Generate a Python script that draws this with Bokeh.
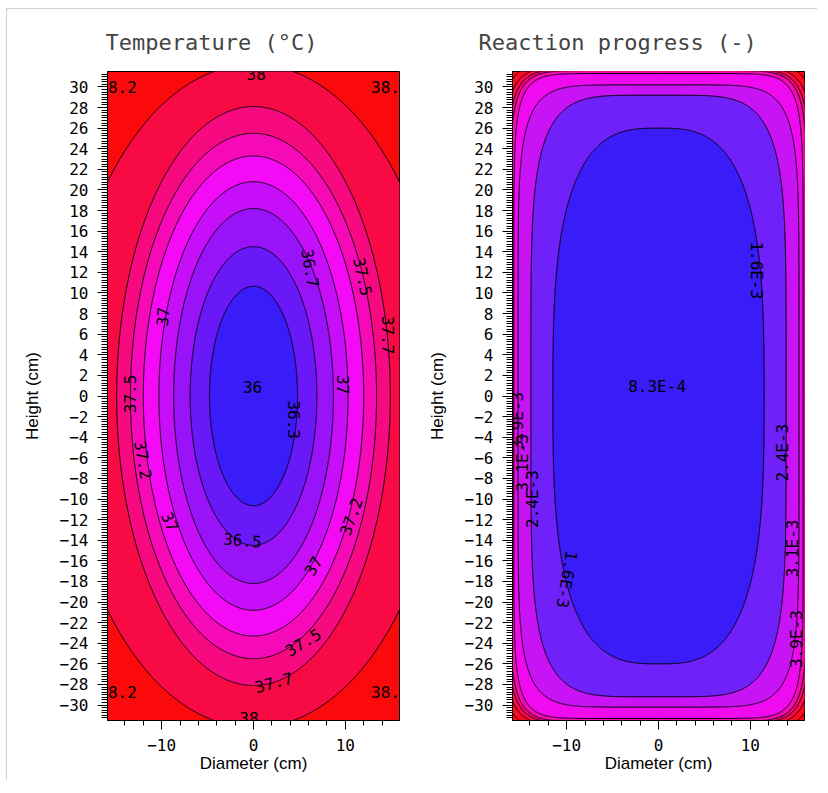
import numpy as np
from bokeh.plotting import figure
from bokeh.layouts import row
from bokeh.models import ColumnDataSource, FixedTicker, Range1d
from bokeh.core.properties import value
from bokeh.embed import file_html
from bokeh.resources import INLINE

# ---------------- data ----------------
diameter_limits = [-15.9, 15.9]
height_limits = [-31.5, 31.5]
x_major_ticks = [-10, 0, 10]
x_minor_ticks = [-14, -12, -8, -6, -4, -2, 2, 4, 6, 8, 12, 14]
y_major_ticks = [-30, -28, -26, -24, -22, -20, -18, -16, -14, -12, -10, -8, -6, -4, -2,
                 0, 2, 4, 6, 8, 10, 12, 14, 16, 18, 20, 22, 24, 26, 28, 30]

# band colours, innermost (lowest) band first
temp_band_colors = ["#3a1cf8", "#6918f8", "#9813f8", "#c60ff8", "#f50af5",
                    "#f60ab8", "#f70a80", "#f80a45", "#fa0a0a"]
react_band_colors = ["#3a1cf8", "#7020f8", "#c814f5", "#f00af0", "#f40ab4",
                     "#f60a7c", "#f80a48", "#fa0a20", "#fa0a0a"]

# Temperature contours: level, half-width (cm) at height 0, half-height (cm) at diameter 0, shape exponent
temp_levels = [36.25, 36.5, 36.75, 37.0, 37.25, 37.5, 37.75, 38.0]
temp_half_width = [4.8, 6.9, 8.7, 10.3, 12.0, 13.4, 14.9, 20.8]
temp_half_height = [10.65, 14.5, 18.2, 20.8, 23.3, 25.5, 28.1, 32.2]
temp_exponent = [2.0, 2.0, 2.0, 2.0, 2.0, 2.0, 2.0, 2.0]

temp_label_text = ["36", "36.3", "36.5", "36.7", "37", "37", "37", "37", "37.2", "37.2",
                   "37.5", "37.5", "37.5", "37.7", "37.7", "38", "38", "38.2", "38.2", "38.2", "38.2"]
temp_label_x = [-0.1, 4.4, -1.2, 6.2, -9.9, -9.1, 9.8, 6.5, -12.0, 10.6,
                -13.4, 11.9, 5.4, 14.7, 2.2, 0.3, -0.5, -14.8, 14.9, -14.8, 14.9]
temp_label_y = [0.9, -2.3, -14.0, 12.4, 7.7, -12.2, 1.1, -16.5, -6.2, -11.7,
                0.2, 11.6, -23.9, 5.9, -27.8, 31.3, -31.3, 30.0, 30.0, -28.7, -28.7]
temp_label_angle = [0, -90, -5, -80, 85, -65, -90, 60, -80, 70,
                    90, -78, 31, -90, 15, 0, 0, 0, 0, 0, 0]

# Reaction progress contours
react_levels = [0.0016, 0.0024, 0.0031, 0.0039, 0.0047, 0.0055, 0.0063, 0.0071]
react_half_width = [11.5, 13.9, 15.3, 15.75, 16.2, 16.5, 16.9, 17.4]
react_half_height = [26.0, 29.2, 30.2, 31.3, 31.6, 31.75, 32.0, 32.4]
react_exponent = [3.0, 5.0, 7.0, 10.0, 10.0, 10.0, 10.0, 10.0]

react_label_text = ["8.3E-4", "1.6E-3", "1.6E-3", "2.4E-3", "2.4E-3", "3.1E-3", "3.1E-3", "3.9E-3", "3.9E-3"]
react_label_x = [-0.15, 10.65, -10.0, 13.5, -13.7, 14.6, -14.8, 15.0, -15.4]
react_label_y = [0.9, 12.2, -17.8, -5.5, -10.0, -14.8, -6.5, -23.6, -2.4]
react_label_angle = [0, -90, -100, 90, 90, 90, 90, 90, 90]


def contour_outline(a, b, n, npts=2001):
    t = np.linspace(0.0, 2.0 * np.pi, npts)
    c, s = np.cos(t), np.sin(t)
    xs = a * np.sign(c) * np.abs(c) ** (2.0 / n)
    ys = b * np.sign(s) * np.abs(s) ** (2.0 / n)
    return xs.tolist(), ys.tolist()


def make_panel(title, title_offset, palette, widths, heights, exps, lab_text, lab_x, lab_y, lab_ang):
    p = figure(frame_width=292, frame_height=649,
               x_range=Range1d(*diameter_limits), y_range=Range1d(*height_limits),
               output_backend="svg", toolbar_location=None,
               min_border_left=100, min_border_right=13, min_border_top=62, min_border_bottom=60,
               background_fill_color=palette[-1], border_fill_color="white",
               outline_line_color="black", outline_line_width=1)
    p.grid.visible = False

    # filled contour bands: outermost first
    xs_list, ys_list, colors = [], [], []
    for k in reversed(range(len(widths))):
        xs, ys = contour_outline(widths[k], heights[k], exps[k])
        xs_list.append(xs)
        ys_list.append(ys)
        colors.append(palette[k])
    src = ColumnDataSource(dict(xs=xs_list, ys=ys_list, color=colors))
    p.patches("xs", "ys", source=src, fill_color="color", line_color="black", line_width=1)

    lsrc = ColumnDataSource(dict(x=lab_x, y=lab_y, text=lab_text,
                                 angle=[np.radians(a) for a in lab_ang]))
    p.text("x", "y", text="text", angle="angle", source=lsrc,
           text_font=value("DejaVu Sans Mono"), text_font_size="16px",
           text_color="black", text_align="center", text_baseline="middle")

    # title
    p.title.text = title
    p.title.text_font = "DejaVu Sans Mono"
    p.title.text_font_size = "22px"
    p.title.text_font_style = "normal"
    p.title.align = "left"
    p.title.offset = title_offset
    p.title.standoff = 34

    # axes
    p.xaxis.ticker = FixedTicker(ticks=x_major_ticks, minor_ticks=x_minor_ticks)
    p.yaxis.ticker = FixedTicker(ticks=y_major_ticks,
                                 minor_ticks=[v + 0.25 * j for v in y_major_ticks[:-1] for j in range(1, 8)]
                                 + [y_major_ticks[0] - 0.25 * j for j in range(1, 6)]
                                 + [y_major_ticks[-1] + 0.25 * j for j in range(1, 6)])
    for ax in (p.xaxis[0], p.yaxis[0]):
        ax.major_label_text_font = "DejaVu Sans Mono"
        ax.major_label_text_font_size = "16px"
        ax.major_label_text_color = "black"
        ax.axis_label_text_font = "Liberation Sans"
        ax.axis_label_text_font_size = "17px"
        ax.axis_label_text_font_style = "normal"
        ax.axis_label_text_color = "black"
        ax.axis_line_color = "black"
        ax.major_tick_line_color = "black"
        ax.minor_tick_line_color = "black"
        ax.major_tick_in = 0
        ax.minor_tick_in = 0
    p.xaxis.axis_label = "Diameter (cm)"
    p.yaxis.axis_label = "Height (cm)"
    p.xaxis.major_tick_out = 9
    p.xaxis.minor_tick_out = 5
    p.xaxis.major_label_standoff = 9
    p.xaxis.axis_label_standoff = 0
    p.yaxis.major_tick_out = 10
    p.yaxis.minor_tick_out = 6
    p.yaxis.major_label_standoff = 9
    p.yaxis.axis_label_standoff = 15
    return p


p1 = make_panel("Temperature (°C)", -2, temp_band_colors, temp_half_width, temp_half_height, temp_exponent,
                temp_label_text, temp_label_x, temp_label_y, temp_label_angle)
p2 = make_panel("Reaction progress (-)", -34, react_band_colors, react_half_width, react_half_height,
                react_exponent, react_label_text, react_label_x, react_label_y, react_label_angle)

layout = row(p1, p2, margin=(8, 0, 0, 6),
             styles={"border-top": "1px solid #d0d0d0", "border-left": "1px solid #d0d0d0"})

with open("out.html", "w") as f:
    f.write(file_html(layout, INLINE))
